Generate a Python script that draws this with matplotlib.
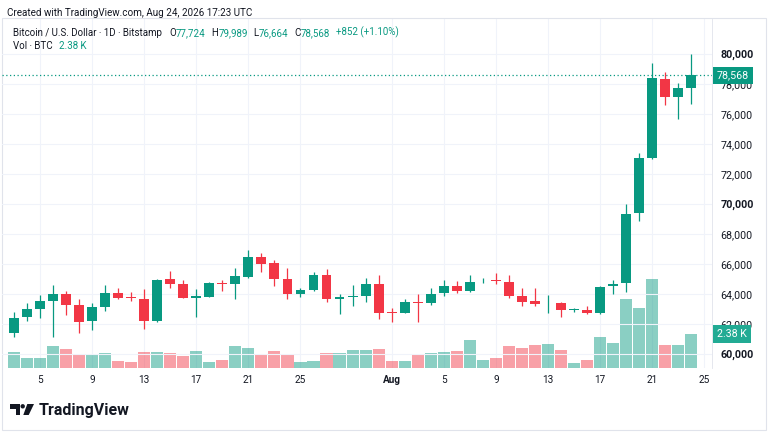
import numpy as np
import pandas as pd
import matplotlib.pyplot as plt
from matplotlib.patches import Rectangle, Polygon, Circle
from matplotlib.transforms import Affine2D

plt.rcParams['font.family'] = ['Roboto', 'DejaVu Sans']

# Daily BTC/USD candles, Jul 3 - Aug 24 2026 (Bitstamp), volume in thousand BTC
start = '2026-07-03'
opens = [61420, 62450, 63000, 63550, 63980, 63250, 62180, 63160, 64050, 63800,
         63690, 62200, 64980, 64670, 63760, 63820, 64760, 64670, 65160, 66470,
         66040, 65000, 64020, 64270, 65290, 63650, 63830, 63870, 64670, 62780,
         62760, 63470, 63420, 64050, 64560, 64220, 64850, 64910, 64820, 63890,
         63510, 63380, 63380, 62920, 62930, 62760, 64530, 64710, 69380, 73050,
         78330, 77110, 77724]
highs = [62820, 63380, 63930, 64600, 64220, 63650, 63420, 64620, 64400, 64160,
         64310, 64980, 65530, 64930, 64330, 64780, 64910, 65730, 66930, 66710,
         66270, 65710, 64380, 65490, 65650, 64000, 64600, 65040, 65270, 63050,
         63650, 64000, 64420, 64930, 64870, 65270, 65040, 65380, 65270, 64380,
         64380, 63930, 63490, 63090, 63220, 64530, 64930, 70000, 73420, 79420,
         78820, 78050, 79989]
lows = [61130, 62220, 62380, 61150, 62600, 61420, 61600, 62870, 63690, 63550,
        61670, 62150, 64420, 63710, 62450, 63780, 64220, 63670, 65090, 65490,
        64560, 63670, 63780, 64200, 63490, 62670, 63200, 63490, 62310, 62150,
        62710, 62150, 63270, 63870, 64090, 64160, 64760, 64670, 63710, 63200,
        63200, 62760, 62450, 62820, 62650, 62670, 63980, 64160, 68890, 73000,
        76600, 75670, 76664]
closes = [62420, 63000, 63530, 63980, 63270, 62150, 63110, 64050, 63760, 63720,
          62200, 64930, 64690, 63760, 63850, 64730, 64650, 65180, 66490, 66020,
          65000, 64020, 64290, 65290, 63650, 63820, 63880, 64670, 62760, 62720,
          63450, 63420, 64000, 64560, 64220, 64820, 64890, 64850, 63890, 63490,
          63350, 63420, 62930, 62980, 62760, 64440, 64650, 69330, 73050, 78380,
          77110, 77716, 78568]
volumes = [1.12, 0.70, 0.70, 1.52, 1.35, 0.96, 0.93, 1.03, 0.47, 0.42,
           1.12, 1.12, 1.05, 0.84, 1.21, 0.44, 0.54, 1.54, 1.38, 1.00,
           1.17, 0.96, 0.40, 0.47, 1.03, 1.07, 1.26, 1.26, 1.31, 0.49,
           0.51, 0.96, 1.05, 1.14, 1.17, 1.98, 0.54, 0.72, 1.52, 1.42,
           1.63, 1.70, 1.28, 0.37, 0.58, 2.15, 1.75, 4.80, 4.20, 6.20,
           1.59, 1.59, 2.38]

tick_dates = ['2026-07-05', '2026-07-09', '2026-07-13', '2026-07-17', '2026-07-21',
              '2026-07-25', '2026-08-01', '2026-08-05', '2026-08-09', '2026-08-13',
              '2026-08-17', '2026-08-21', '2026-08-25']
tick_labels = ['5', '9', '13', '17', '21', '25', 'Aug', '5', '9', '13', '17', '21', '25']
price_ticks = list(range(60000, 80001, 2000))

GREEN = '#089981'
RED = '#f23645'
DARK = '#131722'
GRID = '#f0f3fa'

o = np.array(opens)
h = np.array(highs)
l = np.array(lows)
c = np.array(closes)
v = np.array(volumes)
x = np.arange(len(o))
up = c >= o
col = np.where(up, GREEN, RED)
t0 = pd.Timestamp(start)
tick_pos = [(pd.Timestamp(d) - t0).days for d in tick_dates]

W, H = 768, 432
fig = plt.figure(figsize=(W / 100, H / 100), dpi=100)
px = Affine2D().scale(1 / W, -1 / H).translate(0, 1) + fig.transFigure

rect = [2 / W, 1 - 368 / H, 710 / W, 349 / H]
ax_vol = fig.add_axes(rect)
ax = fig.add_axes(rect, sharex=ax_vol)
ax.set_zorder(ax_vol.get_zorder() + 1)
ax.patch.set_visible(False)

# volume pane
ax_vol.bar(x, v, width=0.93, color=col, alpha=0.47, linewidth=0)
ax_vol.set_ylim(0, 349 / 14.3)
ax_vol.set_yticks([])
ax_vol.set_xticks(tick_pos)
ax_vol.set_xticklabels(tick_labels, fontsize=7.2, color=DARK)
ax_vol.tick_params(axis='x', length=0, pad=5)
for t in ax_vol.get_xticklabels():
    if t.get_text() == 'Aug':
        t.set_fontweight('bold')
ax_vol.grid(axis='x', color=GRID, lw=0.8)
ax_vol.set_axisbelow(True)
for s in ax_vol.spines.values():
    s.set_visible(False)

# candles
ax.vlines(x, l, h, colors=col, lw=0.9, zorder=2)
ax.bar(x, np.maximum(np.abs(c - o), 40), bottom=np.minimum(o, c), width=0.76,
       color=col, linewidth=0, zorder=3)
ax.set_xlim(-0.92, 53.6)
ax.set_ylim(80000 - (368 - 54) * 1000 / 15, 80000 + 35 * 1000 / 15)
ax.yaxis.tick_right()
ax.set_yticks(price_ticks)
ax.set_yticklabels([f'{p:,}' for p in price_ticks], fontsize=7.7, color=DARK)
for t, p in zip(ax.get_yticklabels(), price_ticks):
    if p % 10000 == 0:
        t.set_fontweight('bold')
ax.tick_params(axis='y', length=0, pad=6)
ax.tick_params(axis='x', length=0, labelbottom=False)
ax.grid(axis='y', color=GRID, lw=0.8, zorder=0)
for s in ax.spines.values():
    s.set_visible(False)
ax.spines['right'].set_visible(True)
ax.spines['right'].set_color('#e0e3eb')
ax.spines['right'].set_linewidth(0.6)

# last price line and labels
ax.axhline(c[-1], color=GREEN, lw=0.9, ls=(0, (1, 2)), zorder=1)
ax.annotate(f'{c[-1]:,}', xy=(1, c[-1]), xycoords=('axes fraction', 'data'),
            xytext=(5, 0), textcoords='offset pixels', ha='left', va='center',
            fontsize=7.7, color='white',
            bbox=dict(boxstyle='square,pad=0.35', fc=GREEN, ec='none'), zorder=5)
ax.annotate(f'{v[-1]:.2f} K', xy=(1, v[-1]), xycoords=('axes fraction', ax_vol.transData),
            xytext=(5, 0), textcoords='offset pixels', ha='left', va='center',
            fontsize=7.7, color='white',
            bbox=dict(boxstyle='square,pad=0.35', fc='#22ab94', ec='none'), zorder=5)

# panel frame
fig.add_artist(Rectangle((2, 18), 764, 412, transform=px, fill=False,
                         ec='#e0e3eb', lw=0.8))

# header and legend
fig.text(7 / W, 1 - 12.5 / H, 'Created with TradingView.com, Aug 24, 2026 17:23 UTC',
         fontsize=7.1, color=DARK, va='center')


def chain(parts, x0, y0):
    t = fig.text(x0 / W, 1 - y0 / H, parts[0][0], color=parts[0][1],
                 fontsize=7, va='center')
    for s, cl, gap in parts[1:]:
        t = ax.annotate(s, xy=(1, 0), xycoords=t, xytext=(gap, 0),
                        textcoords='offset pixels', color=cl, fontsize=7,
                        va='bottom', annotation_clip=False)


chg = c[-1] - c[-2]
chain([('Bitcoin / U.S. Dollar · 1D · Bitstamp', DARK, 0),
       ('O', DARK, 7), (f'{o[-1]:,}', GREEN, 0),
       ('H', DARK, 6), (f'{h[-1]:,}', GREEN, 0),
       ('L', DARK, 6), (f'{l[-1]:,}', GREEN, 0),
       ('C', DARK, 6), (f'{c[-1]:,}', GREEN, 0),
       (f'{chg:+,} ({chg / c[-2] * 100:+.2f}%)', GREEN, 6)], 13, 33.5)
chain([('Vol · BTC', DARK, 0), (f'{v[-1]:.2f} K', GREEN, 6)], 13, 46)

# TradingView logo
fig.add_artist(Rectangle((10, 404), 10, 4.5, transform=px, fc=DARK, ec='none'))
fig.add_artist(Rectangle((15.5, 404), 4.5, 11, transform=px, fc=DARK, ec='none'))
fig.add_artist(Circle((22.7, 406.3), 2.2, transform=px, fc=DARK, ec='none'))
fig.add_artist(Polygon([(27.3, 404), (34, 404), (28.7, 415), (23.3, 415)],
                       closed=True, transform=px, fc=DARK, ec='none'))
fig.text(39 / W, 1 - 410 / H, 'TradingView', fontsize=11.5, fontweight='bold',
         color=DARK, va='center')

fig.savefig('out.png', dpi=100)
